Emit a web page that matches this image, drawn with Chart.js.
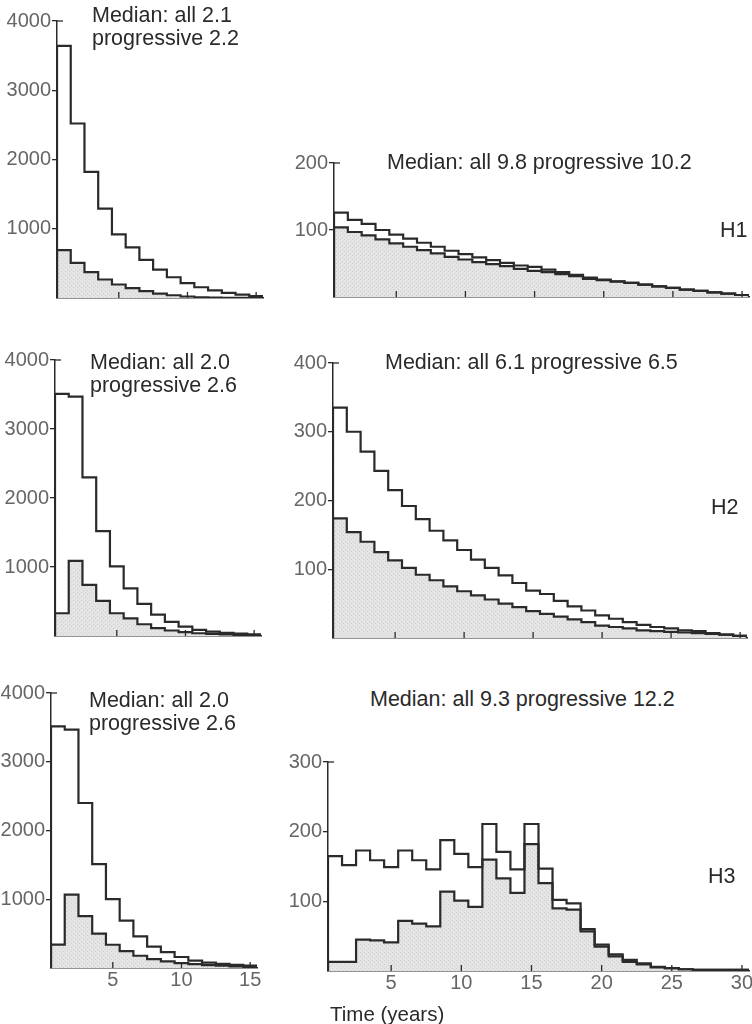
<!DOCTYPE html>
<html>
<head>
<meta charset="utf-8">
<script src="https://cdn.jsdelivr.net/npm/chart.js@4.4.1/dist/chart.umd.min.js"></script>
<style>
html, body { margin: 0; padding: 0; background: #fff; overflow: hidden; }
body { width: 752px; height: 1024px; position: relative; font-family: "Liberation Sans", Arial, sans-serif; }
canvas { position: absolute; }
.lbl { position: absolute; font-size: 21.5px; line-height: 23px; color: #2a2a2a; white-space: nowrap; }
</style>
</head>
<body>
<canvas id="c1"></canvas>
<canvas id="c2"></canvas>
<canvas id="c3"></canvas>
<canvas id="c4"></canvas>
<canvas id="c5"></canvas>
<canvas id="c6"></canvas>

<div class="lbl" style="left:92px;top:4px">Median: all 2.1<br>progressive 2.2</div>
<div class="lbl" style="left:387px;top:151px">Median: all 9.8 progressive 10.2</div>
<div class="lbl" style="left:720px;top:219px">H1</div>

<div class="lbl" style="left:90px;top:351px">Median: all 2.0<br>progressive 2.6</div>
<div class="lbl" style="left:385px;top:351px">Median: all 6.1 progressive 6.5</div>
<div class="lbl" style="left:711px;top:496px">H2</div>

<div class="lbl" style="left:89px;top:689px">Median: all 2.0<br>progressive 2.6</div>
<div class="lbl" style="left:370px;top:688px">Median: all 9.3 progressive 12.2</div>
<div class="lbl" style="left:708px;top:865px">H3</div>
<div class="lbl" style="left:330px;top:1002px;font-size:20.5px">Time (years)</div>

<script>
// tick values
const leftYTicks = [1000, 2000, 3000, 4000];
const h1YTicks = [100, 200];
const h2YTicks = [100, 200, 300, 400];
const h3YTicks = [100, 200, 300];
const leftXTicks = [5, 10, 15];
const rightXTicks = [5, 10, 15, 20, 25, 30];

// yearly counts, bins centred on years 1..n
const p1All  = [3640, 2520, 1820, 1290, 920, 730, 550, 410, 300, 215, 155, 110, 75, 50, 28];
const p1Prog = [690, 508, 375, 267, 195, 142, 98, 64, 40, 22, 10, 4, 2, 1, 1];

const h1All  = [126, 115, 109, 100, 93, 87, 81, 75, 69, 64, 59, 55, 51, 47, 45, 41, 37, 33, 29, 26, 23.5, 21, 18.5, 16, 13.5, 11, 9, 7, 5, 3];
const h1Prog = [104, 97, 92, 86, 80, 75, 70, 65, 60, 56, 52, 49, 46, 42, 39, 37, 34, 31, 27, 25, 23, 21, 18.5, 16, 13.5, 11, 9, 7, 5, 3];

const p3All  = [3510, 3470, 2300, 1520, 1010, 690, 465, 310, 205, 135, 90, 62, 45, 33, 25];
const p3Prog = [330, 1090, 740, 510, 330, 256, 170, 115, 80, 55, 40, 30, 22, 16, 12];

const h2All  = [335, 300, 271, 243, 215, 192, 173, 156, 142, 128, 114, 102, 91, 80, 69, 64, 54, 46, 40, 33, 28, 23, 19, 16, 14, 11, 10, 7, 5, 3];
const h2Prog = [174, 154, 140, 125, 113, 102, 92, 84, 75, 68, 62, 56, 50, 45, 39, 35, 31, 27, 23, 18, 16, 14, 11, 10, 9, 8, 7, 6, 5, 3];

const p5All  = [3514, 3466, 2400, 1512, 1003, 690, 460, 310, 230, 160, 107, 78, 60, 46, 34];
const p5Prog = [340, 1066, 755, 500, 338, 246, 178, 130, 96, 72, 55, 43, 33, 24, 14];

const h3All  = [165, 152, 173, 159, 149, 173, 159, 146, 188, 168, 149, 211, 171, 146, 211, 147, 102, 97, 60, 38, 24, 16, 11, 6, 4, 2.5, 1.5, 1.5, 1.5, 1.5];
const h3Prog = [13, 13, 45, 44, 41, 72, 68, 64, 114, 101, 92, 160, 133, 112, 182, 126, 90, 88, 57, 35, 21, 13, 9.6, 5.3, 4, 2.5, 1.5, 1.5, 1.5, 1.5];

Chart.defaults.font.family = '"Liberation Sans", Arial, sans-serif';

const INK = '#2a2a2a';
const YW = 60, PT = 14, PR = 22, XH = 34;

// light stippled grey for the progressive area
function stipple() {
    const c = document.createElement('canvas');
    c.width = 4; c.height = 4;
    const g = c.getContext('2d');
    g.fillStyle = '#e4e4e4';
    g.fillRect(0, 0, 4, 4);
    g.fillStyle = '#cfcfcf';
    g.fillRect(0, 0, 1, 1);
    g.fillRect(2, 2, 1, 1);
    return g.createPattern(c, 'repeat');
}

// outline points for a histogram whose bins sit on years 1..n
function steps(vals) {
    const pts = [{ x: 0.5, y: 0 }];
    vals.forEach((v, i) => {
        pts.push({ x: i + 0.5, y: v }, { x: i + 1.5, y: v });
    });
    pts.push({ x: vals.length + 0.5, y: 0 });
    return pts;
}

// small upward ticks on the time axis and the corner at the top of the y axis
const innerTicks = {
    id: 'innerTicks',
    afterDraw(chart) {
        const ctx = chart.ctx, xs = chart.scales.x, ys = chart.scales.y;
        const y0 = ys.getPixelForValue(0);
        ctx.save();
        ctx.strokeStyle = INK;
        ctx.lineWidth = 1.3;
        xs.ticks.forEach(t => {
            const px = xs.getPixelForValue(t.value);
            ctx.beginPath();
            ctx.moveTo(px, y0);
            ctx.lineTo(px, y0 - 6);
            ctx.stroke();
        });
        const yt = ys.getPixelForValue(ys.max);
        ctx.beginPath();
        ctx.moveTo(xs.left, yt);
        ctx.lineTo(xs.left + 6, yt);
        ctx.stroke();
        ctx.restore();
    }
};

const panels = [
    { id: 'c1', box: [57, 21, 263, 298], yMax: 4000, yTicks: leftYTicks, xTicks: leftXTicks, labels: false, all: p1All, prog: p1Prog },
    { id: 'c2', box: [334, 163, 749, 297], yMax: 200, yTicks: h1YTicks, xTicks: rightXTicks, labels: false, all: h1All, prog: h1Prog },
    { id: 'c3', box: [55, 360, 261, 636], yMax: 4000, yTicks: leftYTicks, xTicks: leftXTicks, labels: false, all: p3All, prog: p3Prog },
    { id: 'c4', box: [333, 363, 747, 638], yMax: 400, yTicks: h2YTicks, xTicks: rightXTicks, labels: false, all: h2All, prog: h2Prog },
    { id: 'c5', box: [51, 693, 257, 968], yMax: 4000, yTicks: leftYTicks, xTicks: leftXTicks, labels: true, all: p5All, prog: p5Prog },
    { id: 'c6', box: [328, 762, 749, 971], yMax: 300, yTicks: h3YTicks, xTicks: rightXTicks, labels: true, all: h3All, prog: h3Prog }
];

const fill = stipple();

panels.forEach(p => {
    const [l, t, r, b] = p.box;
    const canvas = document.getElementById(p.id);
    canvas.width = (r - l) + YW + PR;
    canvas.height = (b - t) + PT + XH;
    canvas.style.left = (l - YW) + 'px';
    canvas.style.top = (t - PT) + 'px';

    new Chart(canvas.getContext('2d'), {
        type: 'line',
        data: {
            datasets: [
                {
                    data: steps(p.all),
                    borderColor: INK,
                    borderWidth: 2.2,
                    fill: false,
                    pointRadius: 0,
                    tension: 0
                },
                {
                    data: steps(p.prog),
                    borderColor: INK,
                    borderWidth: 2.2,
                    backgroundColor: fill,
                    fill: 'origin',
                    pointRadius: 0,
                    tension: 0
                }
            ]
        },
        options: {
            responsive: false,
            animation: false,
            events: [],
            layout: { padding: { top: PT, right: PR, left: 0, bottom: 0 } },
            plugins: { legend: { display: false }, tooltip: { enabled: false } },
            scales: {
                x: {
                    type: 'linear',
                    min: 0.5,
                    max: p.all.length + 0.5,
                    afterBuildTicks: s => { s.ticks = p.xTicks.map(v => ({ value: v })); },
                    afterFit: s => { s.height = XH; s.paddingLeft = 0; s.paddingRight = 0; },
                    ticks: {
                        display: p.labels,
                        color: '#666',
                        font: { size: 20 },
                        padding: 0,
                        maxRotation: 0,
                        autoSkip: false,
                        callback: v => String(v)
                    },
                    grid: { drawOnChartArea: false, drawTicks: false },
                    border: { display: true, color: INK, width: 1.5 }
                },
                y: {
                    type: 'linear',
                    min: 0,
                    max: p.yMax,
                    afterBuildTicks: s => { s.ticks = p.yTicks.map(v => ({ value: v })); },
                    afterFit: s => { s.width = YW; s.paddingTop = 0; s.paddingBottom = 0; },
                    ticks: { color: '#666', font: { size: 20 }, padding: 1, callback: v => String(v) },
                    grid: { drawOnChartArea: false, drawTicks: true, tickLength: 5, color: INK, lineWidth: 1.3 },
                    border: { display: true, color: INK, width: 1.5 }
                }
            }
        },
        plugins: [innerTicks]
    });
});
</script>
</body>
</html>
